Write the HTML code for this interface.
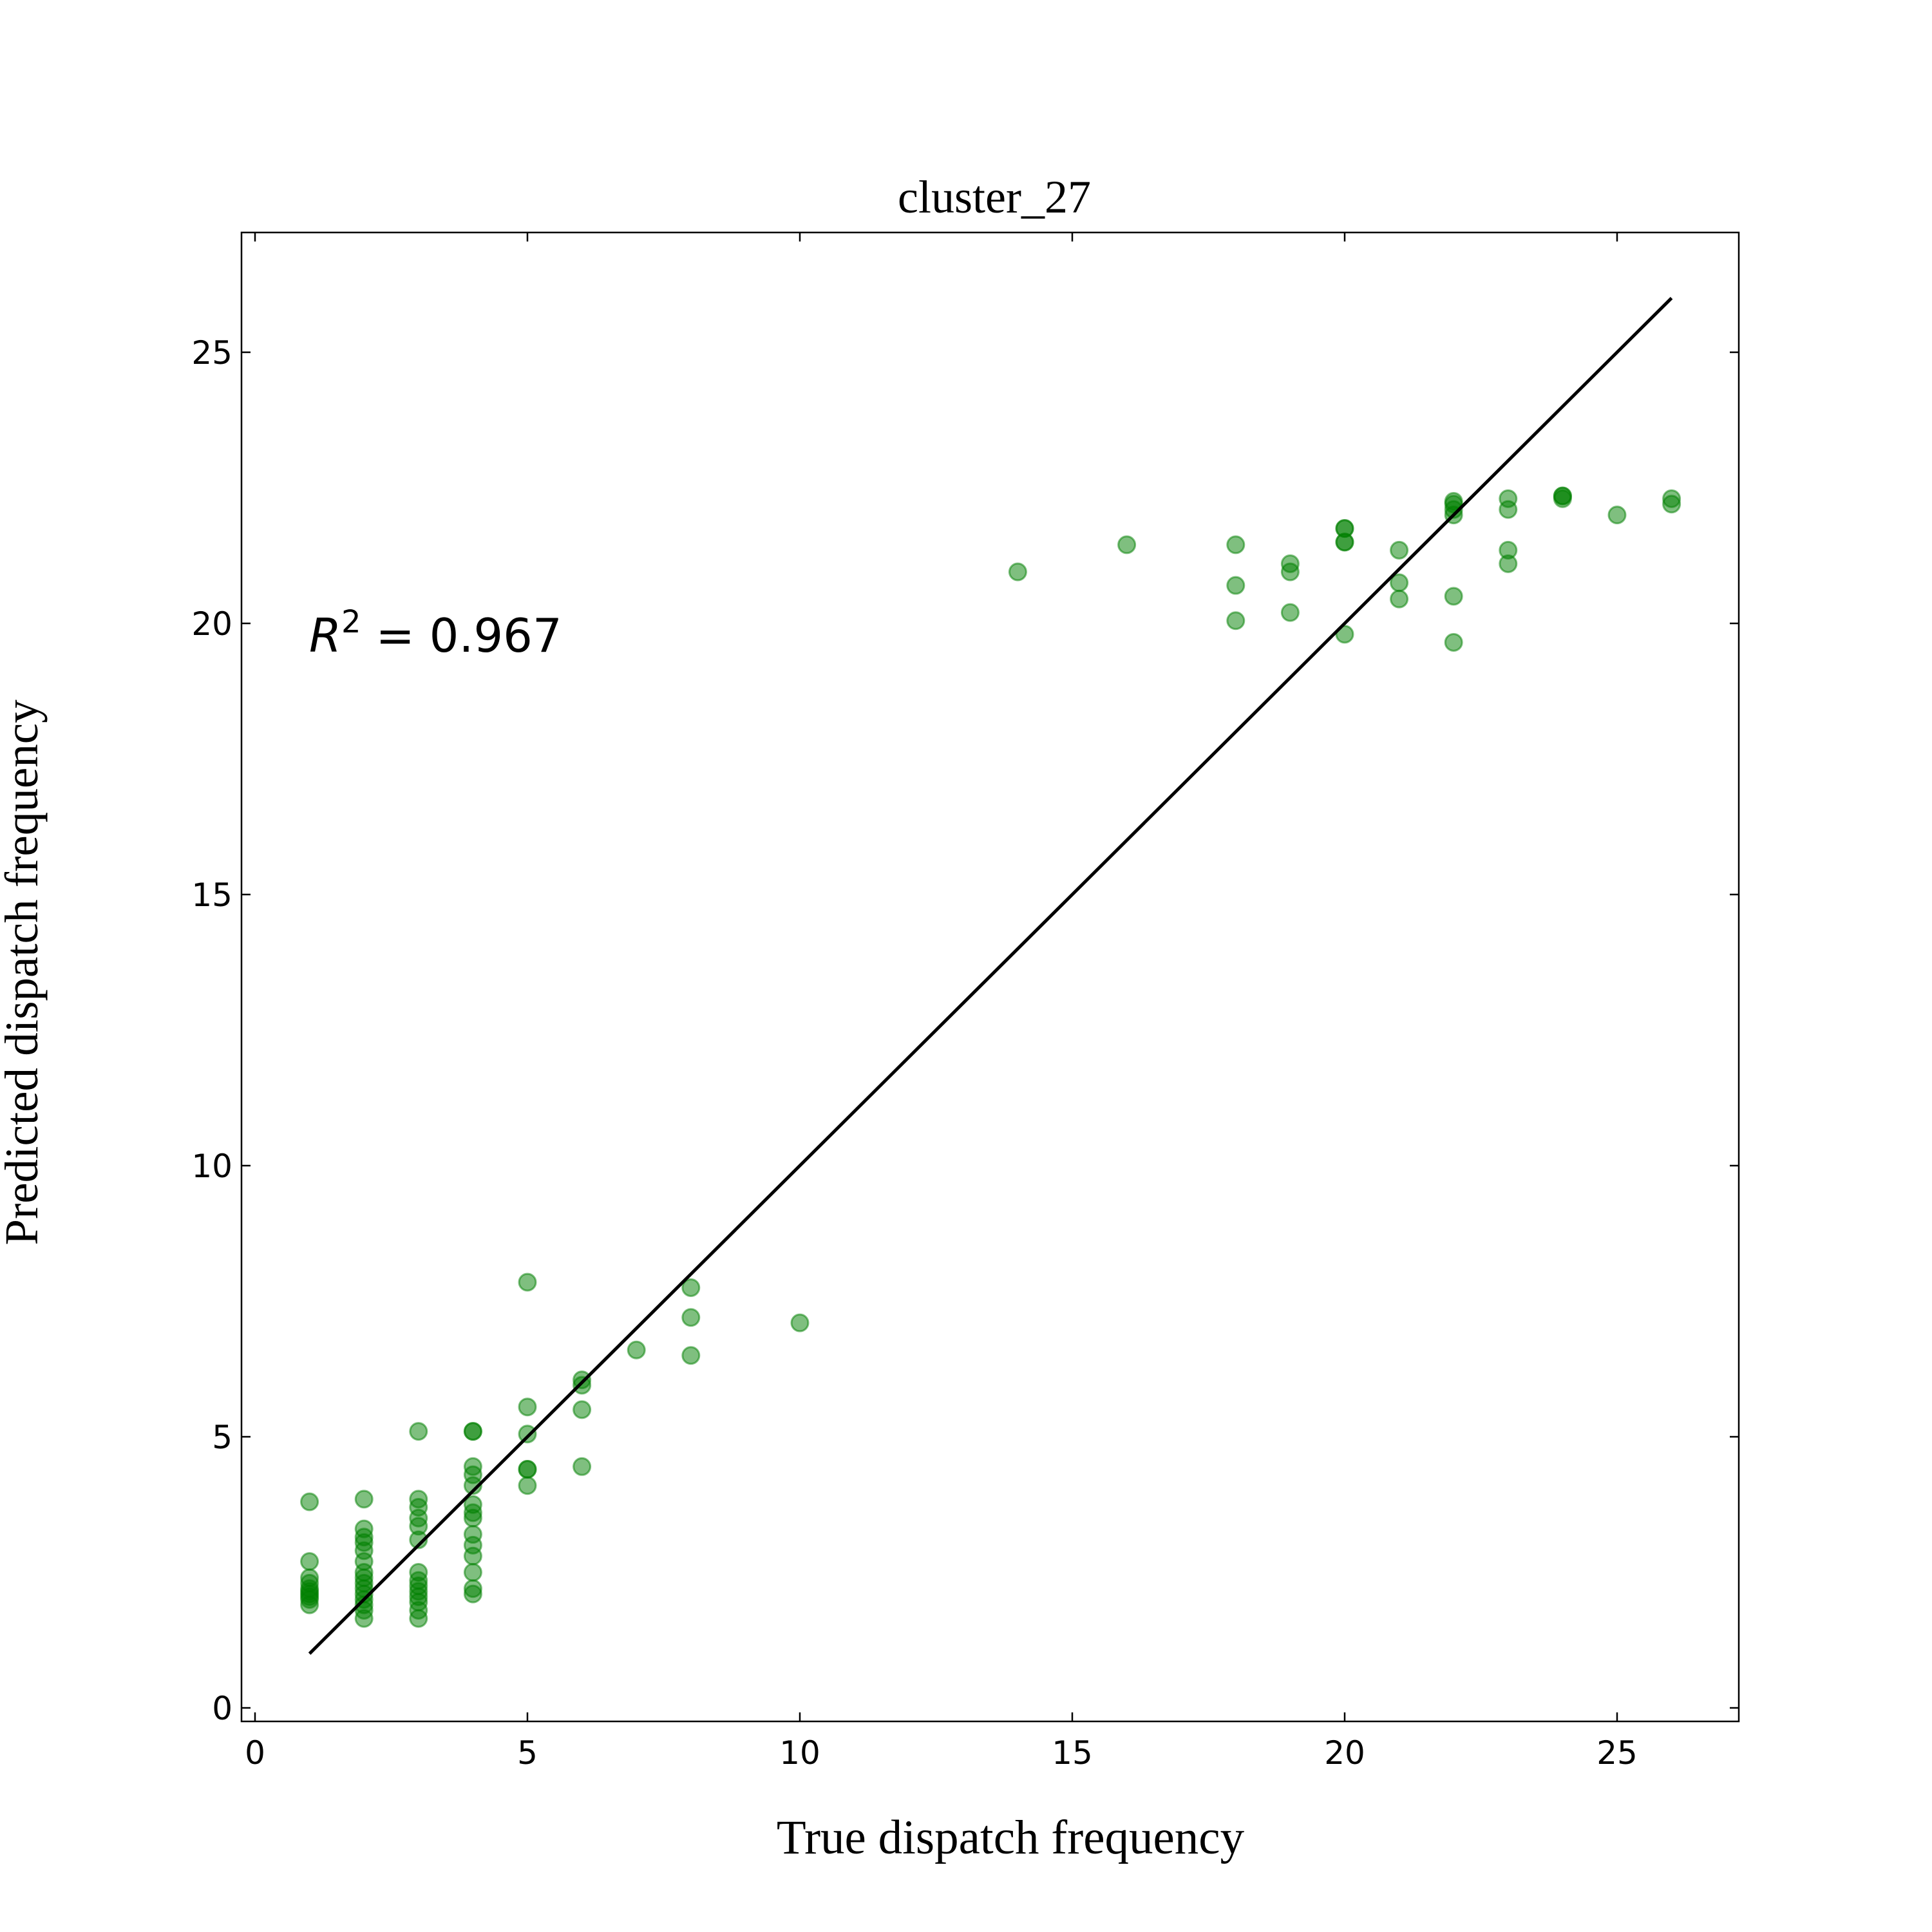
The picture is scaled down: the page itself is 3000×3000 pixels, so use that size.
<!DOCTYPE html>
<html><head><meta charset="utf-8"><style>
html,body{margin:0;padding:0;background:#fff;}
svg{display:block;}
.tk{font-family:"DejaVu Sans","Liberation Sans",sans-serif;font-size:50px;fill:#000;}
.ser{font-family:"Liberation Serif",serif;fill:#000;}
</style></head><body>
<svg id="chart" width="3000" height="3000" viewBox="0 0 3000 3000" xmlns="http://www.w3.org/2000/svg">
<rect width="3000" height="3000" fill="#fff"/>
<text class="ser" x="1544" y="330" font-size="72" text-anchor="middle">cluster_27</text>
<text class="ser" x="1569" y="2878" font-size="75" text-anchor="middle">True dispatch frequency</text>
<text class="ser" transform="translate(58,1510) rotate(-90)" font-size="73" text-anchor="middle">Predicted dispatch frequency</text>
<g id="marks"></g>
<g id="axes"></g>
<text x="480" y="1012" font-size="72" font-family="DejaVu Sans, Liberation Sans, sans-serif"><tspan font-style="italic">R</tspan><tspan font-size="48" dy="-30">2</tspan><tspan dy="30"> = 0.967</tspan></text>
</svg>
<script>
const trueVals = [1,1,1,1,1,1,1,1,1,1, 2,2,2,2,2,2,2,2,2,2,2,2,2,2,2, 3,3,3,3,3,3,3,3,3,3,3,3,3,3, 4,4,4,4,4,4,4,4,4,4,4,4,4,4, 5,5,5,5,5,5, 6,6,6,6, 7, 8,8,8, 10, 14, 16, 18,18,18, 19,19,19, 20,20,20,20,20, 21,21,21, 22,22,22,22,22,22, 23,23,23,23, 24,24,24, 25, 26,26];
const predVals = [1.9,2.0,2.05,2.1,2.15,2.2,2.3,2.4,2.7,3.8, 1.65,1.8,1.9,2.0,2.1,2.2,2.3,2.4,2.5,2.7,2.9,3.05,3.15,3.3,3.85, 1.65,1.8,1.95,2.05,2.15,2.25,2.35,2.5,3.1,3.35,3.5,3.7,3.85,5.1, 2.1,2.2,2.5,2.8,3.0,3.2,3.5,3.6,3.75,4.1,4.3,4.45,5.1,5.1, 4.1,4.4,4.4,5.05,5.55,7.85, 4.45,5.5,5.95,6.05, 6.6, 6.5,7.2,7.75, 7.1, 20.95, 21.45, 21.45,20.7,20.05, 21.1,20.95,20.2, 21.75,21.75,21.5,21.5,19.8, 21.35,20.75,20.45, 22.25,22.2,22.1,22.0,20.5,19.65, 22.3,22.1,21.35,21.1, 22.35,22.35,22.3, 22.0, 22.3,22.2];
const lineX = [1,26];
const xTicks = [0,5,10,15,20,25];
const yTicks = [0,5,10,15,20,25];

const NS="http://www.w3.org/2000/svg";
const L=375,R=2700,T=361,B=2673;
function sx(v){return 396+v*84.6;}
function sy(v){return 2652-v*84.2;}
const marks=document.getElementById('marks');
const axes=document.getElementById('axes');
for(let i=0;i<trueVals.length;i++){
  const c=document.createElementNS(NS,'circle');
  c.setAttribute('cx',sx(trueVals[i]));c.setAttribute('cy',sy(predVals[i]));c.setAttribute('r',13);
  c.setAttribute('fill','rgba(0,128,0,0.5)');c.setAttribute('stroke','rgba(0,128,0,0.5)');c.setAttribute('stroke-width',3);
  
  
  marks.appendChild(c);
}
const ln=document.createElementNS(NS,'line');
ln.setAttribute('x1',sx(lineX[0]));ln.setAttribute('y1',sy(lineX[0]));ln.setAttribute('x2',sx(lineX[1]));ln.setAttribute('y2',sy(lineX[1]));
ln.setAttribute('stroke','#000');ln.setAttribute('stroke-width',5);


marks.appendChild(ln);
const fr=document.createElementNS(NS,'rect');
fr.setAttribute('x',L);fr.setAttribute('y',T);fr.setAttribute('width',R-L);fr.setAttribute('height',B-T);
fr.setAttribute('fill','none');fr.setAttribute('stroke','#000');fr.setAttribute('stroke-width',2.5);


axes.appendChild(fr);
function tick(x1,y1,x2,y2){const t=document.createElementNS(NS,'line');t.setAttribute('x1',x1);t.setAttribute('y1',y1);t.setAttribute('x2',x2);t.setAttribute('y2',y2);t.setAttribute('stroke','#000');t.setAttribute('stroke-width',2.5);


axes.appendChild(t);}
xTicks.forEach(v=>{const x=sx(v);tick(x,B,x,B-14);tick(x,T,x,T+14);
  const tx=document.createElementNS(NS,'text');tx.setAttribute('class','tk');tx.setAttribute('x',x);tx.setAttribute('y',B+66);tx.setAttribute('text-anchor','middle');tx.textContent=v;
  
  
  axes.appendChild(tx);});
yTicks.forEach(v=>{const y=sy(v);tick(L,y,L+14,y);tick(R,y,R-14,y);
  const tx=document.createElementNS(NS,'text');tx.setAttribute('class','tk');tx.setAttribute('x',L-14);tx.setAttribute('y',y+18);tx.setAttribute('text-anchor','end');tx.textContent=v;
  
  
  axes.appendChild(tx);});
</script>
</body></html>
